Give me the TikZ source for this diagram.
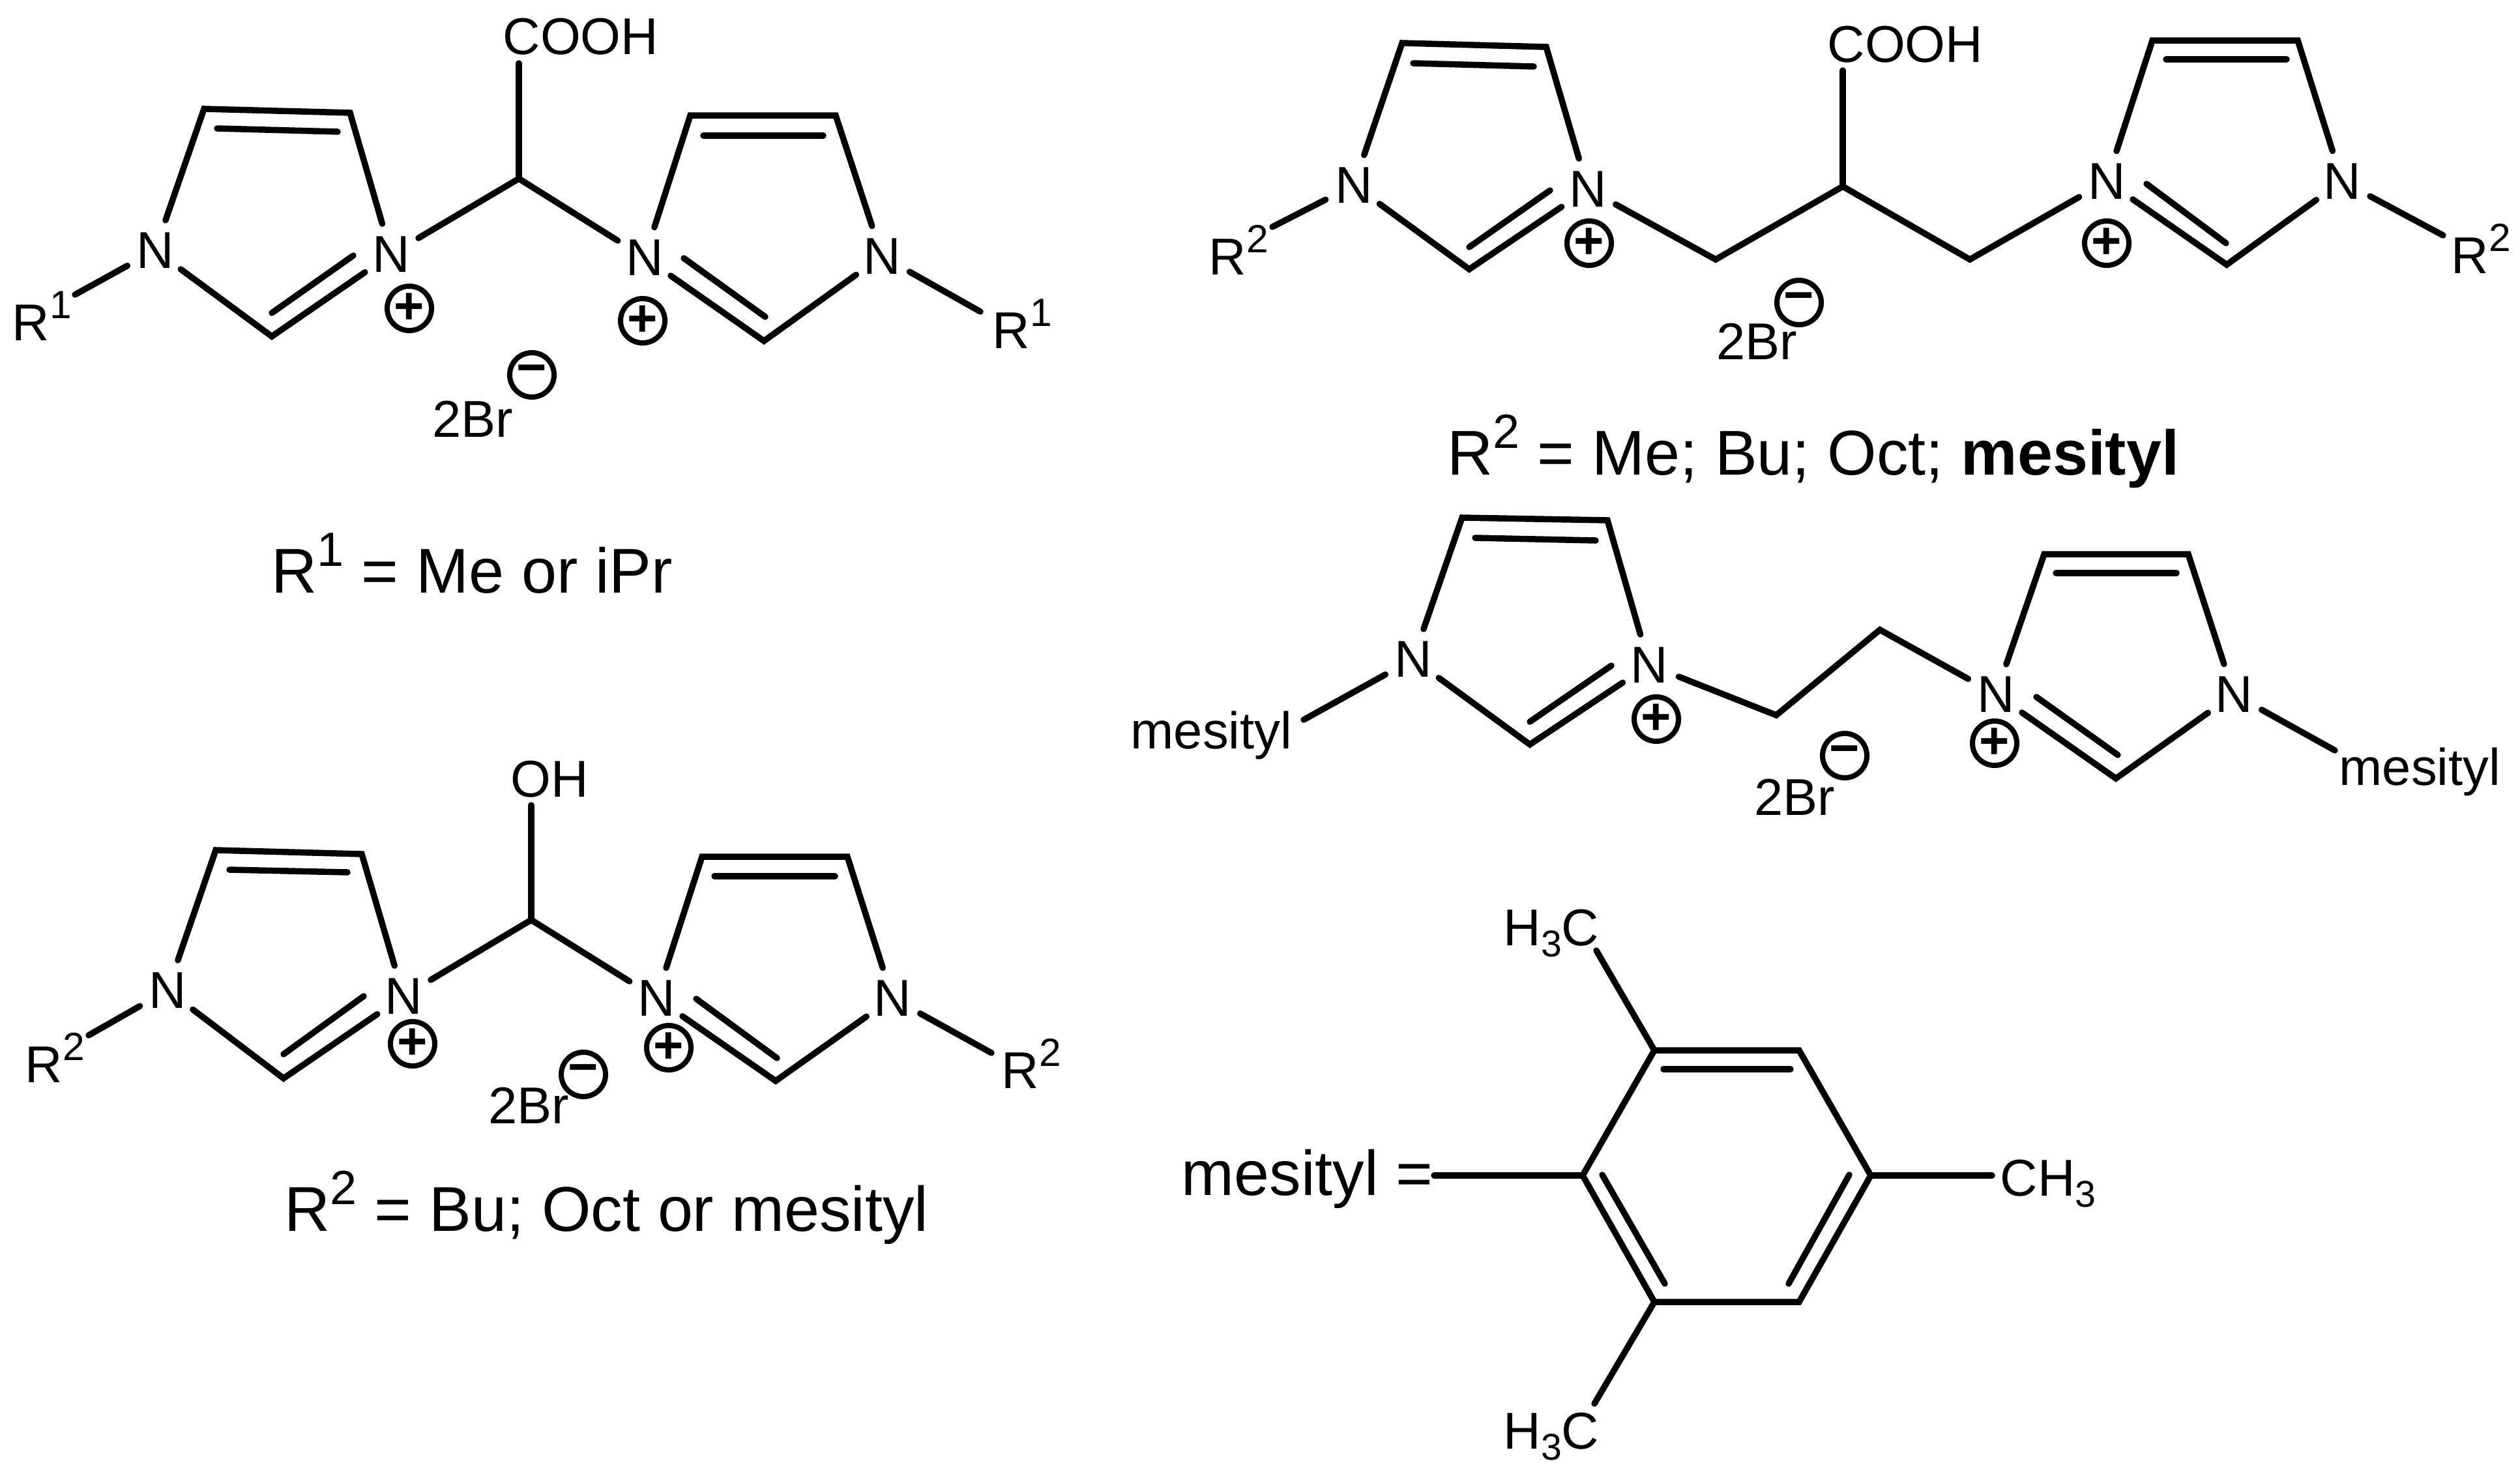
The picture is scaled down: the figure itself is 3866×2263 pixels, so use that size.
\documentclass[tikz,border=0pt]{standalone}
\usepackage{fontspec}
\setmainfont{Liberation Sans}
\newcommand\labf{\fontsize{22.6}{26}\selectfont}
\newcommand\bigf{\fontsize{27.6}{31}\selectfont}
\newcommand\sps[1]{\raisebox{0.42em}{\scalebox{.76}{#1}}}
\newcommand\sbs[1]{\raisebox{-0.22em}{\scalebox{.72}{#1}}}
\tikzset{
  bond/.style={line width=0.095cm,line cap=round,line join=miter},
  atom/.style={circle,inner sep=0pt,minimum size=0.96cm,font=\labf},
  chg/.style={circle,draw,line width=0.08cm,inner sep=0pt,minimum size=0.68cm,font=\labf\bfseries},
  lab/.style={anchor=base west,inner sep=0pt,font=\labf},
  big/.style={anchor=base west,inner sep=0pt,font=\bigf},
}
\begin{document}
\begin{tikzpicture}[x=0.01cm,y=-0.01cm]
\useasboundingbox (0,0) rectangle (3866,2263);
\fill[white] (0,0) rectangle (3866,2263);

% ---------- molecule A (COOH, short) ----------
\node[atom] (a1) at (238,384) {N};
\node[atom] (a2) at (600,390) {N};
\node[atom] (a3) at (989,395) {N};
\node[atom] (a4) at (1353,393) {N};
\coordinate (aTL) at (313,167); \coordinate (aTR) at (537,173);
\coordinate (aB) at (417,516);
\coordinate (aC) at (796,274);
\coordinate (aCO) at (796,97);
\coordinate (aTL2) at (1059,177); \coordinate (aTR2) at (1282,177);
\coordinate (aB2) at (1172,523);
\coordinate (aR1) at (115,452); \coordinate (aR2) at (1504,478);
\coordinate (aI1) at (333,197); \coordinate (aI2) at (518,202);
\coordinate (aI3) at (417,480); \coordinate (aI4) at (542,392);
\coordinate (aI5) at (1079,208); \coordinate (aI6) at (1263,208);
\coordinate (aI7) at (1174,486); \coordinate (aI8) at (1049,396);
\draw[bond] (a1) -- (aTL) -- (aTR) -- (a2);
\draw[bond] (a1) -- (aB) -- (a2);
\draw[bond] (a2) -- (aC) -- (a3);
\draw[bond] (aC) -- (aCO);
\draw[bond] (a3) -- (aTL2) -- (aTR2) -- (a4);
\draw[bond] (a3) -- (aB2) -- (a4);
\draw[bond] (a1) -- (aR1);
\draw[bond] (a4) -- (aR2);
\draw[bond] (aI1) -- (aI2);
\draw[bond] (aI3) -- (aI4);
\draw[bond] (aI5) -- (aI6);
\draw[bond] (aI7) -- (aI8);
\node[lab] (aT1) at (771,83) {COOH};
\node[lab] (aT2) at (18,522) {R\sps{1}};
\node[lab] (aT3) at (1522,534) {R\sps{1}};
\node[chg] (aP1) at (628,473) {+};
\node[chg] (aP2) at (986,492) {+};
\node[lab] (aT4) at (663,670) {2Br};
\node[chg] (aM) at (816,575) {−};
\node[big] (aT5) at (416,909) {R\sps{1} = Me or iPr};

% ---------- molecule B (OH) ----------
\node[atom] (b1) at (257,1519) {N};
\node[atom] (b2) at (619,1528) {N};
\node[atom] (b3) at (1007,1531) {N};
\node[atom] (b4) at (1369,1531) {N};
\coordinate (bTL) at (331,1304); \coordinate (bTR) at (555,1310);
\coordinate (bB) at (435,1654);
\coordinate (bC) at (815,1411);
\coordinate (bCO) at (815,1235);
\coordinate (bTL2) at (1077,1314); \coordinate (bTR2) at (1300,1314);
\coordinate (bB2) at (1190,1658);
\coordinate (bR1) at (136,1588); \coordinate (bR2) at (1521,1615);
\coordinate (bI1) at (352,1334); \coordinate (bI2) at (533,1338);
\coordinate (bI3) at (435,1617); \coordinate (bI4) at (558,1528);
\coordinate (bI5) at (1096,1344); \coordinate (bI6) at (1281,1344);
\coordinate (bI7) at (1192,1623); \coordinate (bI8) at (1068,1532);
\draw[bond] (b1) -- (bTL) -- (bTR) -- (b2);
\draw[bond] (b1) -- (bB) -- (b2);
\draw[bond] (b2) -- (bC) -- (b3);
\draw[bond] (bC) -- (bCO);
\draw[bond] (b3) -- (bTL2) -- (bTR2) -- (b4);
\draw[bond] (b3) -- (bB2) -- (b4);
\draw[bond] (b1) -- (bR1);
\draw[bond] (b4) -- (bR2);
\draw[bond] (bI1) -- (bI2);
\draw[bond] (bI3) -- (bI4);
\draw[bond] (bI5) -- (bI6);
\draw[bond] (bI7) -- (bI8);
\node[lab] (bT1) at (783,1222) {OH};
\node[lab] (bT2) at (38,1660) {R\sps{2}};
\node[lab] (bT3) at (1536,1669) {R\sps{2}};
\node[chg] (bP1) at (633,1601) {+};
\node[chg] (bP2) at (1026,1607) {+};
\node[lab] (bT4) at (749,1723) {2Br};
\node[chg] (bM) at (895,1648) {−};
\node[big] (bT5) at (436,1888) {R\sps{2} = Bu; Oct or mesityl};

% ---------- molecule C (COOH, long) ----------
\node[atom] (c1) at (2077,284) {N};
\node[atom] (c2) at (2436,290) {N};
\node[atom] (c3) at (3232,278) {N};
\node[atom] (c4) at (3593,278) {N};
\coordinate (cTL) at (2151,66); \coordinate (cTR) at (2372,72);
\coordinate (cB) at (2254,413);
\coordinate (cL) at (2632,398);
\coordinate (cC) at (2827,286);
\coordinate (cRr) at (3022,398);
\coordinate (cCO) at (2827,108);
\coordinate (cTL2) at (3302,62); \coordinate (cTR2) at (3525,62);
\coordinate (cB2) at (3416,406);
\coordinate (cR1) at (1952,348); \coordinate (cR2) at (3748,361);
\coordinate (cI1) at (2168,97); \coordinate (cI2) at (2353,102);
\coordinate (cI3) at (2254,379); \coordinate (cI4) at (2378,292);
\coordinate (cI5) at (3323,91); \coordinate (cI6) at (3508,91);
\coordinate (cI7) at (3415,373); \coordinate (cI8) at (3293,282);
\draw[bond] (c1) -- (cTL) -- (cTR) -- (c2);
\draw[bond] (c1) -- (cB) -- (c2);
\draw[bond] (c2) -- (cL) -- (cC) -- (cRr) -- (c3);
\draw[bond] (cC) -- (cCO);
\draw[bond] (c3) -- (cTL2) -- (cTR2) -- (c4);
\draw[bond] (c3) -- (cB2) -- (c4);
\draw[bond] (c1) -- (cR1);
\draw[bond] (c4) -- (cR2);
\draw[bond] (cI1) -- (cI2);
\draw[bond] (cI3) -- (cI4);
\draw[bond] (cI5) -- (cI6);
\draw[bond] (cI7) -- (cI8);
\node[lab] (cT1) at (2803,95) {COOH};
\node[lab] (cT2) at (1854,421) {R\sps{2}};
\node[lab] (cT3) at (3760,419) {R\sps{2}};
\node[chg] (cP1) at (2438,373) {+};
\node[chg] (cP2) at (3232,373) {+};
\node[lab] (cT4) at (2633,551) {2Br};
\node[chg] (cM) at (2760,464) {−};
\node[big] (cT5) at (2220,728) {R\sps{2} = Me; Bu; Oct; \textbf{mesityl}};

% ---------- molecule D (ethylene) ----------
\node[atom] (d1) at (2168,1011) {N};
\node[atom] (d2) at (2530,1020) {N};
\node[atom] (d3) at (3062,1065) {N};
\node[atom] (d4) at (3427,1065) {N};
\coordinate (dTL) at (2243,794); \coordinate (dTR) at (2466,798);
\coordinate (dB) at (2347,1142);
\coordinate (dL) at (2725,1097);
\coordinate (dRr) at (2884,966);
\coordinate (dTL2) at (3136,850); \coordinate (dTR2) at (3357,850);
\coordinate (dB2) at (3246,1194);
\coordinate (dR1) at (2000,1104); \coordinate (dR2) at (3582,1151);
\coordinate (dI1) at (2263,825); \coordinate (dI2) at (2448,829);
\coordinate (dI3) at (2347,1107); \coordinate (dI4) at (2472,1021);
\coordinate (dI5) at (3154,879); \coordinate (dI6) at (3339,879);
\coordinate (dI7) at (3249,1158); \coordinate (dI8) at (3124,1069);
\draw[bond] (d1) -- (dTL) -- (dTR) -- (d2);
\draw[bond] (d1) -- (dB) -- (d2);
\draw[bond] (d2) -- (dL) -- (dRr) -- (d3);
\draw[bond] (d3) -- (dTL2) -- (dTR2) -- (d4);
\draw[bond] (d3) -- (dB2) -- (d4);
\draw[bond] (d1) -- (dR1);
\draw[bond] (d4) -- (dR2);
\draw[bond] (dI1) -- (dI2);
\draw[bond] (dI3) -- (dI4);
\draw[bond] (dI5) -- (dI6);
\draw[bond] (dI7) -- (dI8);
\node[lab] (dT2) at (1734,1148) {mesityl};
\node[lab] (dT3) at (3588,1204) {mesityl};
\node[chg] (dP1) at (2541,1103) {+};
\node[chg] (dP2) at (3060,1140) {+};
\node[lab] (dT4) at (2691,1250) {2Br};
\node[chg] (dM) at (2830,1159) {−};

% ---------- mesityl ----------
\coordinate (mTL) at (2538,1611); \coordinate (mTR) at (2760,1611);
\coordinate (mR) at (2870,1803); \coordinate (mBR) at (2760,1997);
\coordinate (mBL) at (2538,1997); \coordinate (mL) at (2428,1803);
\coordinate (mS1) at (2449,1458); \coordinate (mS2) at (2446,2153);
\coordinate (mS3) at (3056,1803); \coordinate (mS4) at (2200,1803);
\coordinate (mI1) at (2552,1640); \coordinate (mI2) at (2747,1640);
\coordinate (mI3) at (2458,1802); \coordinate (mI4) at (2554,1969);
\coordinate (mI5) at (2837,1802); \coordinate (mI6) at (2744,1969);
\draw[bond] (mTL) -- (mTR) -- (mR) -- (mBR) -- (mBL) -- (mL) -- cycle;
\draw[bond] (mTL) -- (mS1);
\draw[bond] (mBL) -- (mS2);
\draw[bond] (mR) -- (mS3);
\draw[bond] (mL) -- (mS4);
\draw[bond] (mI1) -- (mI2);
\draw[bond] (mI3) -- (mI4);
\draw[bond] (mI5) -- (mI6);
\node[lab] (mT1) at (2306,1450) {H\sbs{3}C};
\node[lab] (mT2) at (2306,2222) {H\sbs{3}C};
\node[lab] (mT3) at (3068,1834) {CH\sbs{3}};
\node[big] (mT4) at (1812,1833) {mesityl =};
\end{tikzpicture}
\end{document}
